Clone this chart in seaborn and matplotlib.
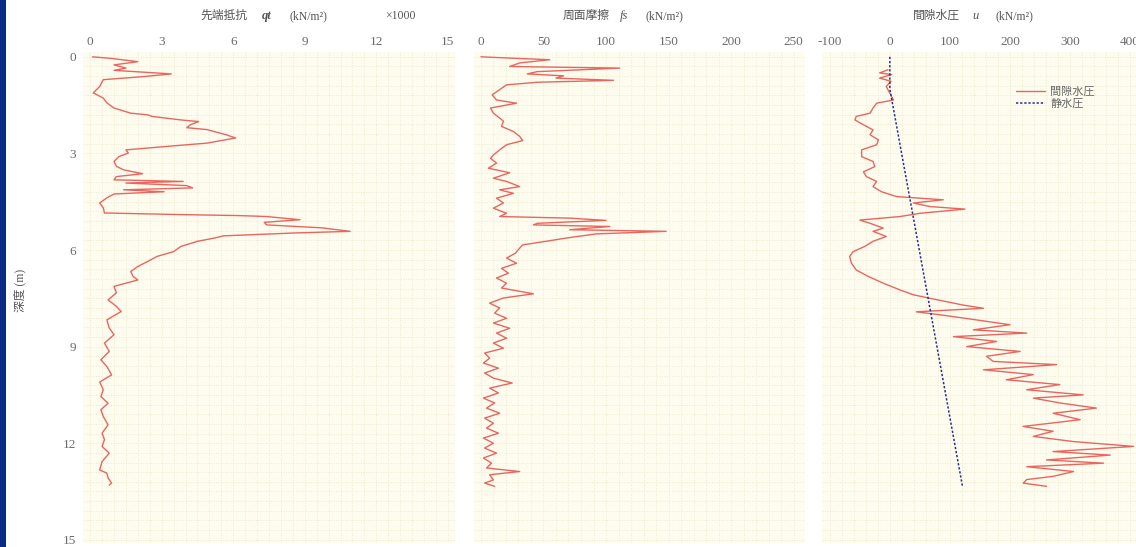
import matplotlib
matplotlib.use("Agg")
import matplotlib.pyplot as plt
from matplotlib.patches import Rectangle
from matplotlib.ticker import MultipleLocator
import seaborn as sns
import pandas as pd

# ---------------- data ----------------
qt_depth = [0.00, 0.05, 0.15, 0.25, 0.35, 0.42, 0.53, 0.61, 0.71, 0.92, 1.12, 1.28, 1.43, 1.59,
            1.75, 1.80, 1.85, 1.96, 2.01, 2.11, 2.20, 2.26, 2.42, 2.52, 2.68, 2.79, 2.89, 2.99,
            3.10, 3.25, 3.40, 3.51, 3.63, 3.72, 3.82, 3.87, 3.92, 4.00, 4.07, 4.13, 4.19, 4.26,
            4.38, 4.54, 4.69, 4.85, 4.90, 4.93, 4.96, 5.06, 5.14, 5.22, 5.31, 5.42, 5.47, 5.56,
            5.63, 5.73, 5.89, 6.05, 6.20, 6.36, 6.51, 6.67, 6.82, 6.93, 7.13, 7.33, 7.55, 7.75,
            7.91, 8.17, 8.42, 8.63, 8.89, 9.15, 9.41, 9.62, 9.88, 10.10, 10.34, 10.55, 10.76,
            10.96, 11.17, 11.43, 11.69, 11.89, 12.10, 12.31, 12.57, 12.83, 12.93, 13.08, 13.24, 13.30]
qt_value = [0.1, 0.9, 2.0, 1.0, 1.5, 1.0, 3.4, 2.3, 0.55, 0.4, 0.13, 0.55, 0.7, 1.0,
            1.7, 2.4, 2.6, 3.8, 4.55, 4.2, 4.05, 4.9, 5.7, 6.1, 4.9, 3.1, 1.5, 1.6,
            1.2, 1.0, 1.1, 1.4, 2.2, 1.1, 1.0, 3.9, 1.5, 4.05, 4.3, 1.4, 3.1, 1.0,
            0.7, 0.4, 0.55, 0.6, 3.8, 6.2, 7.4, 8.8, 7.3, 7.4, 9.7, 10.9, 8.6, 5.6,
            5.2, 4.5, 3.8, 3.5, 2.8, 2.4, 2.0, 1.7, 1.8, 2.0, 1.0, 1.1, 0.75, 1.1,
            1.3, 0.7, 0.8, 1.0, 0.6, 0.8, 0.45, 0.7, 0.9, 0.4, 0.55, 0.45, 0.75,
            0.45, 0.55, 0.75, 0.5, 0.6, 0.5, 0.8, 0.5, 0.4, 0.7, 0.75, 0.9, 0.8]

fs_depth = [0.00, 0.03, 0.09, 0.19, 0.30, 0.35, 0.46, 0.53, 0.59, 0.66, 0.73, 0.79, 0.87, 1.02,
            1.18, 1.34, 1.44, 1.59, 1.75, 1.90, 2.00, 2.16, 2.32, 2.47, 2.60, 2.73, 2.89, 3.05,
            3.15, 3.30, 3.46, 3.60, 3.77, 3.87, 4.03, 4.13, 4.24, 4.39, 4.54, 4.70, 4.86, 4.96,
            5.01, 5.08, 5.17, 5.22, 5.27, 5.37, 5.42, 5.50, 5.63, 5.73, 5.84, 5.94, 6.10, 6.25,
            6.41, 6.57, 6.72, 6.87, 7.03, 7.18, 7.36, 7.49, 7.65, 7.80, 7.96, 8.12, 8.27, 8.43,
            8.58, 8.74, 8.89, 9.05, 9.20, 9.36, 9.51, 9.67, 9.82, 9.98, 10.13, 10.29, 10.44,
            10.60, 10.75, 10.91, 11.07, 11.22, 11.38, 11.53, 11.69, 11.84, 12.00, 12.15, 12.31,
            12.46, 12.62, 12.77, 12.88, 12.98, 13.14, 13.24, 13.34]
fs_value = [0, 18, 55, 31, 23, 111, 45, 37, 66, 60, 106, 45, 20.5, 15,
            9, 12.5, 28.5, 7.7, 10, 15, 18, 16.5, 26, 31, 33.5, 20.5, 15, 10,
            7.7, 12.5, 6, 23, 10, 20.5, 31, 15, 26, 12.5, 18, 10, 20.5, 15,
            71, 100, 45, 42, 103, 71, 148, 92, 68, 52, 33.5, 31, 27.5, 20.5,
            28.5, 16.5, 22, 12.5, 20.5, 16.5, 42, 18, 7, 15, 11, 20.5, 10, 23,
            12.5, 20.5, 10, 18, 3, 7, 2, 14, 3, 10, 25, 7, 14,
            2, 11, 4.5, 15, 3, 10, 4.5, 14, 2, 10, 3, 12.5,
            2, 8.5, 4.5, 31, 7, 10, 3, 11]

u_depth = [0.40, 0.50, 0.55, 0.66, 0.76, 0.92, 1.13, 1.34, 1.44, 1.59, 1.75, 1.85, 1.96, 2.11,
           2.27, 2.42, 2.58, 2.73, 2.89, 3.10, 3.25, 3.41, 3.57, 3.72, 3.87, 4.03, 4.19, 4.34,
           4.44, 4.54, 4.65, 4.73, 4.86, 4.96, 5.07, 5.17, 5.32, 5.42, 5.58, 5.73, 5.89, 6.05,
           6.20, 6.41, 6.62, 6.82, 7.03, 7.24, 7.39, 7.50, 7.71, 7.81, 7.92, 8.01, 8.17, 8.32,
           8.48, 8.58, 8.69, 8.84, 9.00, 9.15, 9.30, 9.46, 9.56, 9.72, 9.87, 10.03, 10.18, 10.34,
           10.50, 10.60, 10.75, 10.91, 11.07, 11.27, 11.48, 11.63, 11.79, 11.95, 12.10, 12.26,
           12.37, 12.52, 12.62, 12.73, 12.88, 13.03, 13.13, 13.24, 13.34]
u_value = [-3, -17, 3, -17, 2, -6, 0, 6, -22, -28, -33, -56, -58, -44,
           -28, -33, -19, -22, -47, -47, -28, -25, -44, -39, -22, -28, -14, 11,
           89, 39, 67, 125, 50, 17, -50, -33, -11, -28, -6, -28, -42, -61,
           -67, -64, -56, -36, -11, 17, 39, 67, 122, 156, 44, 83, 144, 200,
           139, 228, 106, 178, 128, 217, 161, 172, 278, 156, 239, 194, 283, 228,
           322, 239, 283, 344, 272, 317, 222, 272, 239, 306, 406, 272,
           367, 261, 356, 228, 306, 272, 228, 222, 261]

static_depth = [0.0, 1.0, 13.34]
static_value = [0, 0, 121]

depth_ticks = [0, 3, 6, 9, 12, 15]
qt_ticks = [0, 3, 6, 9, 12, 15]
fs_ticks = [0, 50, 100, 150, 200, 250]
u_ticks = [-100, 0, 100, 200, 300, 400]

# ---------------- style ----------------
sns.set_theme(style="white")
plt.rcParams["font.family"] = ["Liberation Serif", "Noto Sans CJK JP", "DejaVu Sans"]

W, H = 1136, 547
fig = plt.figure(figsize=(W / 100, H / 100), dpi=100)
fig.patch.set_facecolor("white")
fig.patches.append(Rectangle((0, 0), 6 / W, 1, transform=fig.transFigure,
                             facecolor="#0b2b86", edgecolor="none", zorder=-1))

top_px, bot_px = 52, 543
b = 1 - bot_px / H
h = (bot_px - top_px) / H

def px_axes(left_px, right_px):
    return fig.add_axes([left_px / W, b, (right_px - left_px) / W, h])

ax1 = px_axes(83, 455)
ax2 = px_axes(474, 805)
ax3 = px_axes(822, 1139)

RED = "#e8665f"
BLUE = "#2b2f8f"
BG = "#fefcef"
GRID = "#e9e4c8"

df_qt = pd.DataFrame({"depth": qt_depth, "qt": qt_value})
df_fs = pd.DataFrame({"depth": fs_depth, "fs": fs_value})
df_u = pd.DataFrame({"depth": u_depth, "u": u_value})
df_st = pd.DataFrame({"depth": static_depth, "u": static_value})

sns.lineplot(data=df_qt, x="qt", y="depth", sort=False, estimator=None, orient="y",
             color=RED, lw=1.0, ax=ax1)
sns.lineplot(data=df_fs, x="fs", y="depth", sort=False, estimator=None, orient="y",
             color=RED, lw=1.0, ax=ax2)
sns.lineplot(data=df_u, x="u", y="depth", sort=False, estimator=None, orient="y",
             color=RED, lw=1.0, ax=ax3, label="間隙水圧")
sns.lineplot(data=df_st, x="u", y="depth", sort=False, estimator=None, orient="y",
             color=BLUE, lw=1.1, ax=ax3, label="静水圧", linestyle=(0, (1.5, 1.2)))

setup = [
    (ax1, qt_ticks, (-0.3, 15.3), 0.5),
    (ax2, fs_ticks, (-5.5, 259), 10),
    (ax3, u_ticks, (-113, 415), 20),
]
for ax, ticks, xl, minor in setup:
    ax.set_facecolor(BG)
    ax.set_xlim(*xl)
    ax.set_ylim(15.1, -0.15)
    ax.xaxis.tick_top()
    ax.set_xticks(ticks)
    ax.set_xticklabels([str(t) for t in ticks])
    ax.xaxis.set_minor_locator(MultipleLocator(minor))
    ax.yaxis.set_minor_locator(MultipleLocator(0.3))
    ax.set_yticks(depth_ticks)
    ax.tick_params(axis="both", which="both", length=0, labelsize=9.5,
                   labelcolor="#6b6b6b", pad=3)
    ax.grid(True, which="both", color=GRID, lw=0.6, linestyle=(0, (1.0, 2.0)))
    ax.set_axisbelow(True)
    for sp in ax.spines.values():
        sp.set_visible(False)
    ax.set_xlabel("")
    ax.set_ylabel("")

ax1.set_yticklabels([str(t) for t in depth_ticks])
ax1.tick_params(axis="y", pad=5)
ax2.set_yticklabels([])
ax3.set_yticklabels([])

leg = ax3.legend(loc="upper left", bbox_to_anchor=(0.58, 0.95), frameon=False,
                 fontsize=8, handlelength=2.6, labelspacing=0.15, handletextpad=0.5)
for t in leg.get_texts():
    t.set_color("#666666")

# titles
ty = 1 - 16 / H
tc = "#555555"
def ftxt(xpx, s, size=8.5, **kw):
    fig.text(xpx / W, ty, s, ha="left", va="center", color=tc, fontsize=size, **kw)

ftxt(200, "先端抵抗")
ftxt(262, "qt", size=9, style="italic", weight="bold")
ftxt(290, "(kN/m²)")
ftxt(385, "×1000")
ftxt(563, "周面摩擦")
ftxt(620, "fs", size=9, style="italic")
ftxt(645, "(kN/m²)")
ftxt(913, "間隙水圧")
ftxt(972, "u", size=9, style="italic")
ftxt(995, "(kN/m²)")

fig.text(20 / W, 1 - 290 / H, "深度 (m)", rotation=90, ha="center", va="center",
         color=tc, fontsize=8.5)

fig.savefig("out.png", dpi=100)
